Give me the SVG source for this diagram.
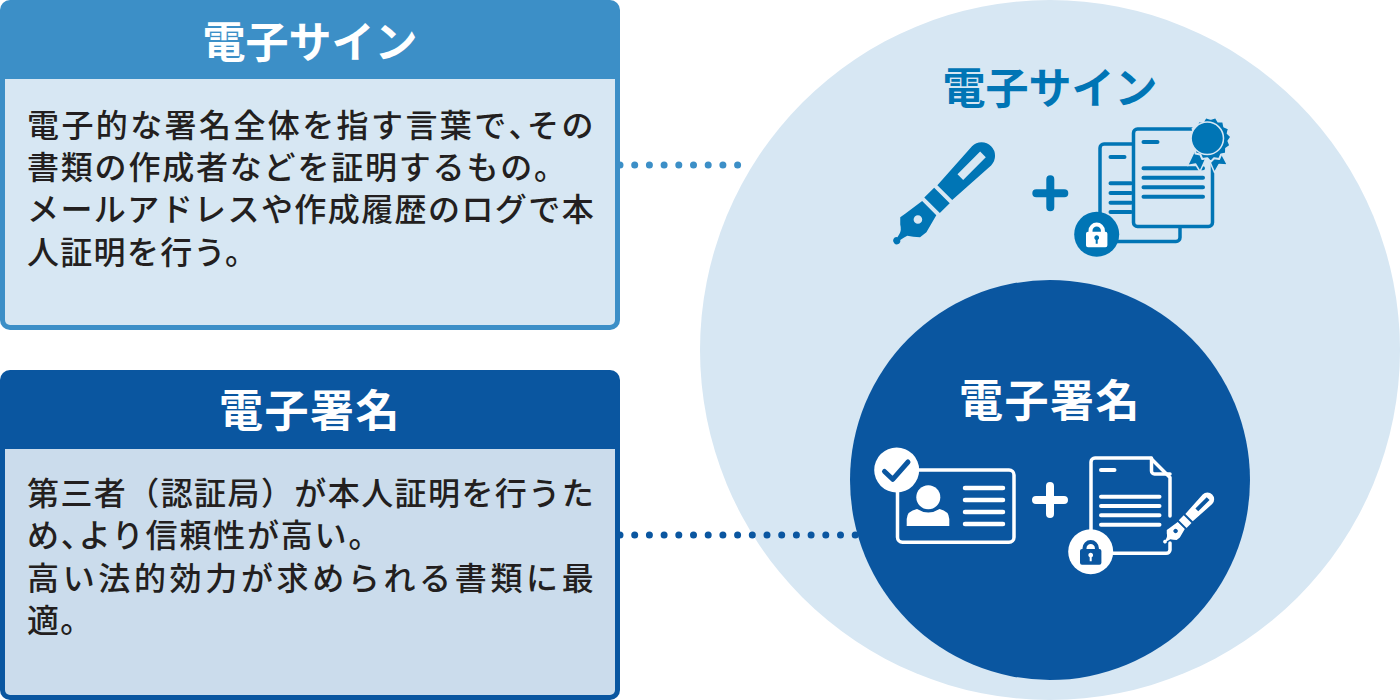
<svg xmlns="http://www.w3.org/2000/svg" width="1400" height="700" viewBox="0 0 1400 700">
<style>
text{font-family:"Noto Sans CJK JP","Noto Sans CJK SC",sans-serif}
.title{font-size:43px;font-weight:700;text-anchor:middle}
.wide{font-size:44px;letter-spacing:1.5px}
.body{font-size:32px;font-weight:500;fill:#231f20;letter-spacing:1.3px}
.halt{font-feature-settings:"halt"}
.w{fill:#fff}
.ln{fill:none;stroke-linecap:round;stroke-linejoin:round}
.hero{color:#0075b5}
.white{color:#fff}
.dots{fill:none;stroke-linecap:round;stroke-width:7;stroke-dasharray:0 14.7}
</style>
<defs>
<path id="pen" fill="currentColor" fill-rule="evenodd" d="M-3.5,0A3.5,3.5 0 0 1 3,-2L7,-3Q11,-4 14,-9L19,-14 25,-13 46,-10 46,10 27,15 19,14Q14,9 11,4Q8,3 3,2A3.5,3.5 0 0 1 -3.5,0ZM25.7,0a4.3,4.3 0 1 0 8.6,0a4.3,4.3 0 1 0 -8.6,0ZM50,-11L64,-11 64,11 50,11ZM68,-10.5L120,-13.5A13.5,13.5 0 0 1 120,13.5L68,10.5ZM90,-4L90,4 122,4 122,-4Z"/>
<g id="plus"><path d="M-14,0H14M0,-14V14" fill="none" stroke="currentColor" stroke-width="8" stroke-linecap="round"/></g>
<g id="padlock">
<path d="M-6.2,-2V-3.5A6.2,6.2 0 0 1 6.2,-3.5V-2" fill="none" stroke="currentColor" stroke-width="4"/>
<path fill="currentColor" fill-rule="evenodd" d="M-8.7,-2.6H8.7A2,2 0 0 1 10.7,-.6V11A2,2 0 0 1 8.7,13H-8.7A2,2 0 0 1 -10.7,11V-.6A2,2 0 0 1 -8.7,-2.6ZM-2.4,3.4A2.4,2.4 0 0 0 -1,5.6V9.5H1V5.6A2.4,2.4 0 1 0 -2.4,3.4Z"/>
</g>
</defs>

<g id="circle-sign">
<circle cx="1050" cy="350" r="350" fill="#d7e7f3"/>
<text class="title" x="1050" y="104" fill="#0075b5">電子サイン</text>
<g id="icon-pen-1" class="hero" transform="translate(896.7 240.7) rotate(-45)"><use href="#pen"/></g>
<g id="icon-plus-1" class="hero" transform="translate(1050.3 193.3)"><use href="#plus"/></g>
<g id="icon-docs" class="hero">
<rect x="1100" y="144" width="80" height="97.5" rx="4" fill="#d7e7f3" stroke="#0075b5" stroke-width="3.5"/>
<path class="ln" stroke="#0075b5" stroke-width="4" d="M1110.5,157H1124.5M1110.5,183.3H1131M1110.5,193H1131M1110.5,202.7H1131M1110.5,212H1131"/>
<rect x="1133.5" y="129" width="79" height="97.5" rx="4" fill="#d7e7f3" stroke="#0075b5" stroke-width="3.5"/>
<path class="ln" stroke="#0075b5" stroke-width="4" d="M1143.5,142H1157.5M1143.5,168.3H1203M1143.5,177.7H1203M1143.5,187.3H1203M1143.5,196.7H1203"/>
<g fill="#0075b5" stroke="#d7e7f3" stroke-width="1.5" stroke-linejoin="round">
<path d="M1195,150L1187.5,165.5 1195.5,164 1200,171.5 1207,156Z"/>
<path d="M1219.5,150L1227.5,165 1219,164.5 1214.5,172.5 1207.5,156Z"/>
</g>
<path d="M1207.3,115.3l3.6,3.5 4.8,-1.6 2.5,4.4 5,-.1 1,5 4.6,2 -1.1,4.9 3.6,3.5 -2.9,4.1 1.9,4.7 -4.2,2.8 -.1,5 -4.9,1 -2,4.6 -5,-.9 -3.4,3.7 -3.4,-3.7 -5,.9 -2,-4.6 -4.9,-1 -.1,-5 -4.2,-2.8 1.9,-4.7 -2.9,-4.1 3.6,-3.5 -1.1,-4.9 4.6,-2 1,-5 5,.1 2.5,-4.4 4.8,1.6Z" fill="#0075b5" stroke="#d7e7f3" stroke-width="2" stroke-linejoin="round"/>
<circle cx="1207.3" cy="138.3" r="16.2" fill="#0075b5" stroke="#d7e7f3" stroke-width="1.5"/>
<circle cx="1096.7" cy="234.3" r="22.5" fill="#0075b5"/>
<g transform="translate(1096.7 234.3)" color="#fff"><use href="#padlock"/></g>
</g>
</g>

<g id="circle-signature">
<circle cx="1050" cy="480" r="200" fill="#0a56a0"/>
<text class="title wide" x="1050" y="417" fill="#fff">電子署名</text>
<g id="icon-id" class="white">
<rect x="897.5" y="470" width="116.5" height="72.3" rx="5" fill="none" stroke="#fff" stroke-width="3.5"/>
<circle cx="928.3" cy="497.3" r="12" fill="#fff"/>
<path d="M906.7,526V519Q907,511 917,509Q928.3,516 939.6,509Q949,511 949.3,519V526Z" fill="#fff"/>
<path class="ln" stroke="#fff" stroke-width="4.5" d="M965,488H1003M965,500H1003M965,512H1003M965,524H1003"/>
<circle cx="896.7" cy="470" r="22.5" fill="#fff"/>
<path class="ln" stroke="#0a56a0" stroke-width="5" d="M884.5,471.5L892.7,479.3 908,462"/>
</g>
<g id="icon-plus-2" class="white" transform="translate(1050 500)"><use href="#plus"/></g>
<g id="icon-doc" class="white">
<path class="ln" stroke="#fff" stroke-width="3.5" d="M1170,516V477.5L1150.5,458H1095A4,4 0 0 0 1091,462V535M1170,543V550A4,4 0 0 1 1166,553.3H1105"/>
<path class="ln" stroke="#fff" stroke-width="3.5" d="M1151.5,458V471A3,3 0 0 0 1154.5,474H1170"/>
<path class="ln" stroke="#fff" stroke-width="4" d="M1101,470H1114.5M1101,496.7H1159.5M1101,506H1159.5M1101,515.3H1159.5M1101,524.7H1159.5"/>
<circle cx="1090.7" cy="551.7" r="22.5" fill="#fff"/>
<g transform="translate(1090.7 551.7)" color="#0a56a0"><use href="#padlock"/></g>
<g transform="translate(1165 541.7) rotate(-45) scale(.5)"><use href="#pen"/></g>
</g>
</g>

<g id="connectors">
<path class="dots" stroke="#3c8fc7" d="M620,165H742"/>
<path class="dots" stroke="#0a56a0" d="M620,535H856"/>
</g>

<g id="box-sign">
<rect x="0" y="0" width="620" height="330" rx="10" fill="#3c8fc7"/>
<path d="M5,79H615V320A5,5 0 0 1 610,325H10A5,5 0 0 1 5,320Z" fill="#d7e7f3"/>
<text class="title w" x="310" y="57.5">電子サイン</text>
<text class="body" x="27" y="136.5" style="letter-spacing:2.4px">電子的な署名全体を指す言葉で<tspan class="halt">、</tspan>その</text>
<text class="body" x="27" y="178.5" style="letter-spacing:1.8px">書類の作成者などを証明するもの。</text>
<text class="body" x="27" y="221" textLength="568">メールアドレスや作成履歴のログで本</text>
<text class="body" x="27" y="263.5">人証明を行う。</text>
</g>

<g id="box-signature">
<rect x="0" y="370" width="620" height="330" rx="10" fill="#0a56a0"/>
<path d="M5,449H615V690A5,5 0 0 1 610,695H10A5,5 0 0 1 5,690Z" fill="#cbdcec"/>
<text class="title w wide" x="310" y="427">電子署名</text>
<text class="body" x="27" y="505" textLength="568">第三者（認証局）が本人証明を行うた</text>
<text class="body" x="27" y="546.5" style="letter-spacing:1.8px">め<tspan class="halt">、</tspan>より信頼性が高い。</text>
<text class="body" x="27" y="590" textLength="568">高い法的効力が求められる書類に最</text>
<text class="body" x="27" y="631.5">適。</text>
</g>
</svg>
